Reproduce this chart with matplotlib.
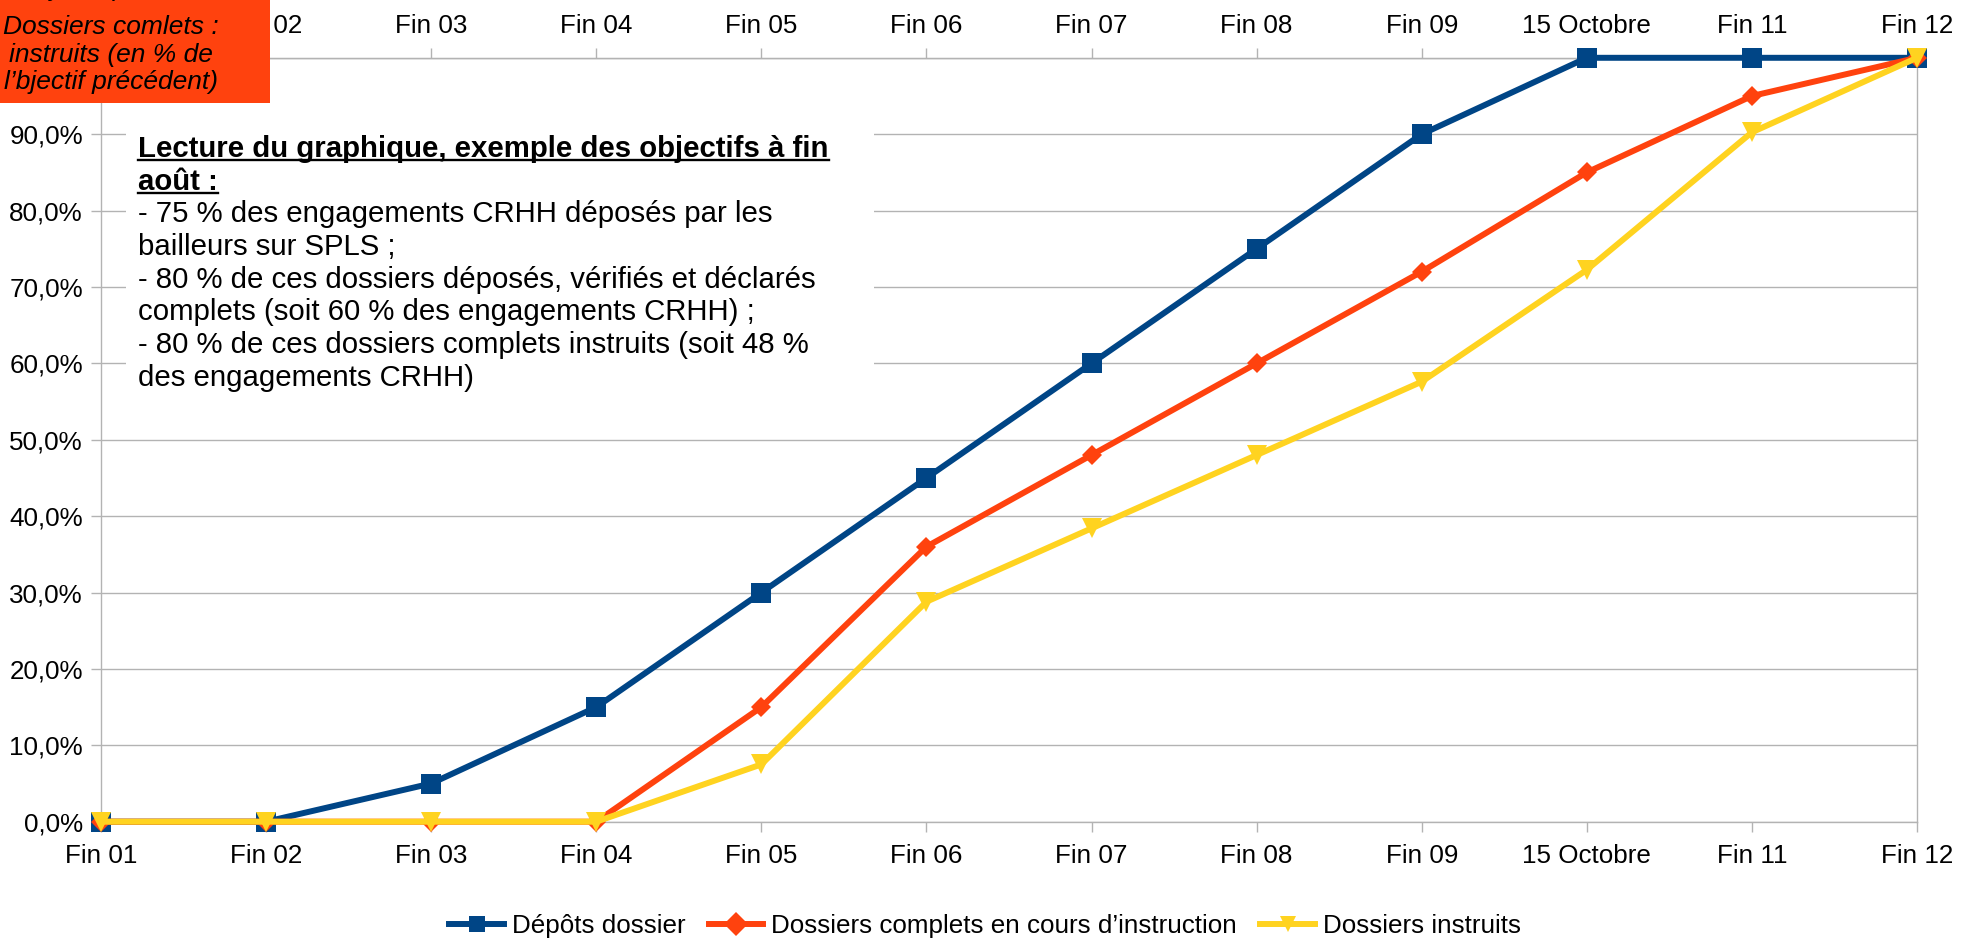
import matplotlib
matplotlib.use("Agg")
import matplotlib.pyplot as plt
from matplotlib.patches import Rectangle
from matplotlib.lines import Line2D

plt.rcParams['font.family'] = ['Liberation Sans', 'DejaVu Sans']

categories = ["Fin 01", "Fin 02", "Fin 03", "Fin 04", "Fin 05", "Fin 06",
              "Fin 07", "Fin 08", "Fin 09", "15 Octobre", "Fin 11", "Fin 12"]
depots = [0, 0, 5, 15, 30, 45, 60, 75, 90, 100, 100, 100]
complets = [0, 0, 0, 0, 15, 36, 48, 60, 72, 85, 95, 100]
instruits = [0, 0, 0, 0, 7.5, 28.8, 38.4, 48, 57.6, 72.25, 90.25, 100]
yticks = [0, 10, 20, 30, 40, 50, 60, 70, 80, 90, 100]

series_names = ["Dépôts dossier", "Dossiers complets en cours d’instruction", "Dossiers instruits"]
colors = ["#004586", "#ff420e", "#ffd320"]

W, H = 1970, 946
fig = plt.figure(figsize=(W / 100, H / 100), dpi=100)
left, right, bottom, top = 101 / W, 1917 / W, 1 - 821.7 / H, 1 - 57.8 / H
ax = fig.add_axes([left, bottom, right - left, top - bottom])

x = list(range(len(categories)))
grid_c = "#b3b3b3"
tfs = 18.7

ax.set_xlim(0, len(categories) - 1)
ax.set_ylim(0, 100)
ax.set_yticks(yticks)
ax.set_yticklabels([f"{v:.1f}%".replace(".", ",") for v in yticks], fontsize=tfs)
ax.set_xticks(x)
ax.set_xticklabels(categories, fontsize=tfs)
ax.yaxis.grid(True, color=grid_c, linewidth=1.0, zorder=0)
ax.set_axisbelow(True)
for s in ax.spines.values():
    s.set_color(grid_c)
    s.set_linewidth(1.0)
ax.tick_params(axis='both', colors=grid_c, labelcolor='black', length=7, width=1.0)
ax.tick_params(axis='x', pad=9)
ax.tick_params(axis='y', pad=6)

sec = ax.secondary_xaxis('top')
sec.set_xticks(x)
sec.set_xticklabels(categories, fontsize=tfs)
sec.tick_params(colors=grid_c, labelcolor='black', length=7, width=1.0, pad=7)
sec.spines['top'].set_color(grid_c)

# white box behind annotation
ax.add_patch(Rectangle((126 / W, 1 - 400 / H), (874 - 126) / W, (400 - 125) / H,
                       transform=fig.transFigure, facecolor='white', edgecolor='none', zorder=1.5))

markers = ['s', 'D', 'v']
msizes = [14.5, 10, 14.5]
for vals, name, c, m, ms in zip([depots, complets, instruits], series_names, colors, markers, msizes):
    ax.plot(x, vals, color=c, linewidth=4.3, marker=m, markersize=ms,
            markeredgewidth=0, label=name, clip_on=False, zorder=3)

# annotation text
bold_lines = ["Lecture du graphique, exemple des objectifs à fin", "août :"]
norm_lines = ["- 75 % des engagements CRHH déposés par les",
              "bailleurs sur SPLS ;",
              "- 80 % de ces dossiers déposés, vérifiés et déclarés",
              "complets (soit 60 % des engagements CRHH) ;",
              "- 80 % de ces dossiers complets instruits (soit 48 %",
              "des engagements CRHH)"]
ys = [149, 182, 214, 247, 280, 312, 345, 378]
tx = 138 / W
bold_texts = []
for i, line in enumerate(bold_lines + norm_lines):
    t = fig.text(tx, 1 - ys[i] / H, line, fontsize=21.2, va='center', ha='left',
                 fontweight='bold' if i < 2 else 'normal', zorder=5)
    if i < 2:
        bold_texts.append(t)

fig.canvas.draw()
renderer = fig.canvas.get_renderer()
for t in bold_texts:
    bb = t.get_window_extent(renderer)
    yline = bb.y0 + 3
    fig.add_artist(Line2D([bb.x0 / W, bb.x1 / W], [yline / H, yline / H],
                          transform=fig.transFigure, color='black', linewidth=1.7, zorder=6))

# orange box top-left
fig.add_artist(Rectangle((0, 1 - 103 / H), 270 / W, 103 / H, transform=fig.transFigure,
                         facecolor='#ff420e', edgecolor='none', zorder=10))
box_lines = ["Objectif pour les", "Dossiers comlets :", "instruits (en % de", "l’bjectif précédent)"]
box_ys = [-11, 27, 55, 82]
for line, yy in zip(box_lines, box_ys):
    fig.text(111 / W, 1 - yy / H, line, fontsize=19, style='italic', ha='center', va='center',
             zorder=11)

leg = fig.legend(loc='center', bbox_to_anchor=(0.5, 1 - 926 / H), ncol=3, frameon=False,
                 fontsize=tfs, handlelength=2.1, columnspacing=0.9, handletextpad=0.3,
                 borderaxespad=0)
for h in leg.legend_handles:
    h.set_markersize(12)

fig.savefig("out.png", dpi=100)
